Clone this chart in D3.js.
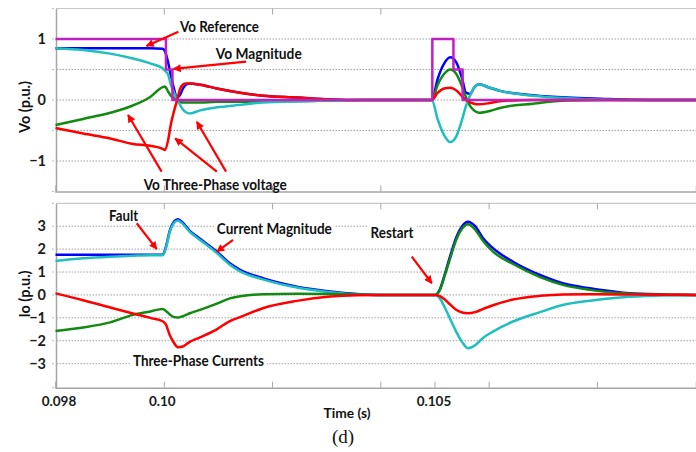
<!DOCTYPE html>
<html><head><meta charset="utf-8">
<script src="https://cdnjs.cloudflare.com/ajax/libs/d3/7.8.5/d3.min.js"></script>
<style>
html,body{margin:0;padding:0;background:#fff;}
svg{display:block;font-family:Lato,"Open Sans",sans-serif;}
</style></head><body>
<svg id="chart" width="696" height="452"></svg>
<script>
// ---------- DATA ----------
// Top panel: shared time axis (s)
const timeTop = [0.0980,0.09851,0.09901,0.09943,0.09975,0.09998,0.10002,0.10008,0.10013,0.10019,0.10024,0.10030,0.10035,0.10041,0.10048,0.10067,0.10098,0.10141,0.10183,0.10246,0.10307,0.10368,0.10436,0.10495,0.10506,0.10518,0.10529,0.10540,0.10551,0.10558,0.10566,0.10573,0.10582,0.10602,0.10621,0.10682,0.10745,0.10806,0.10898,0.10983];
const voMagnitude = [0.85,0.85,0.85,0.85,0.85,0.84,0.80,0.62,0.40,0.18,0.04,0.08,0.18,0.25,0.27,0.25,0.19,0.12,0.07,0.04,0.01,0,0,0,0.35,0.60,0.70,0.62,0.35,0.12,0.10,0.20,0.26,0.20,0.15,0.08,0.04,0.02,0,0];
const voPhaseA = [0.85,0.82,0.76,0.68,0.60,0.52,0.48,0.42,0.25,0.12,0.02,-0.08,-0.15,-0.20,-0.22,-0.17,-0.12,-0.08,-0.04,-0.02,-0.01,0,0,0,-0.32,-0.58,-0.69,-0.60,-0.32,-0.10,0.08,0.20,0.26,0.20,0.15,0.07,0.03,0.01,0,0];
const voPhaseB = [-0.41,-0.31,-0.21,-0.09,0.05,0.21,0.22,0.14,0.07,0.03,-0.01,-0.03,-0.04,-0.04,-0.04,-0.04,-0.03,-0.03,-0.02,-0.02,-0.01,0,0,0,0.25,0.43,0.50,0.43,0.22,0.05,-0.10,-0.17,-0.21,-0.18,-0.13,-0.06,-0.01,0,0,0];
const voPhaseC = [-0.46,-0.55,-0.63,-0.72,-0.75,-0.80,-0.82,-0.66,-0.40,-0.18,-0.02,0.18,0.25,0.27,0.27,0.25,0.19,0.12,0.07,0.04,0.01,0,0,0,0.12,0.19,0.20,0.16,0.06,0.0,-0.04,-0.06,-0.07,-0.05,-0.02,0,0,0,0,0];
// Vo reference (step signal)
const refTime  = [0.0980,0.10004,0.10016,0.10496,0.10535,0.10552,0.10983];
const refValue = [1,0.5,0,1,0.5,0,0];

// Bottom panel: shared time axis (s)
const timeBot = [0.0980,0.09851,0.09901,0.09943,0.09975,0.09998,0.10004,0.10011,0.10019,0.10026,0.10035,0.10048,0.10067,0.10098,0.10122,0.10141,0.10183,0.10246,0.10307,0.10357,0.10399,0.10473,0.10501,0.10510,0.10519,0.10529,0.10540,0.10551,0.10562,0.10575,0.10589,0.10608,0.10645,0.10695,0.10737,0.10787,0.10848,0.10922,0.10983];
const ioMagnitude = [1.75,1.75,1.75,1.75,1.75,1.75,2.1,2.8,3.2,3.3,3.15,2.8,2.45,1.89,1.38,1.1,0.73,0.36,0.15,0.04,0,0,0,0.25,0.9,1.7,2.5,3.0,3.2,3.0,2.5,2.04,1.45,0.87,0.51,0.29,0.10,0.02,0];
const ioPhaseA = [1.48,1.60,1.67,1.71,1.73,1.73,2.05,2.75,3.15,3.25,3.1,2.75,2.4,1.83,1.32,1.03,0.68,0.32,0.12,0.02,0,0,0,-0.15,-0.55,-1.05,-1.6,-2.05,-2.33,-2.2,-1.89,-1.6,-1.16,-0.75,-0.44,-0.25,-0.1,-0.03,0];
const ioPhaseB = [-1.57,-1.42,-1.2,-0.87,-0.72,-0.61,-0.70,-0.85,-0.97,-0.99,-0.93,-0.8,-0.65,-0.38,-0.15,-0.06,0.03,0.05,0.04,0.02,0,0,0,0.22,0.85,1.6,2.4,2.9,3.09,2.85,2.38,1.89,1.35,0.78,0.44,0.22,0.07,0.01,0];
const ioPhaseC = [0.07,-0.23,-0.55,-0.81,-1.0,-1.15,-1.30,-1.75,-2.1,-2.28,-2.25,-2.05,-1.85,-1.5,-1.14,-0.97,-0.58,-0.26,-0.07,-0.01,0,0,0,-0.05,-0.2,-0.42,-0.65,-0.77,-0.8,-0.75,-0.62,-0.45,-0.2,-0.04,0.02,0.03,0.02,0.01,0];

// Axis ticks
const xTickValues = [0.098,0.100,0.102,0.104,0.105,0.106,0.108];
const xTickLabels = {0.098:"0.098",0.1:"0.10",0.105:"0.105"};
const yTopTicks = [-1,0,1];
const yTopGrid = [-1,-0.5,0,0.5,1];
const yBotTicks = [-3,-2,-1,0,1,2,3];

// ---------- LAYOUT ----------
const svg = d3.select("#chart");
const x = d3.scaleLinear().domain([0.098,0.10983]).range([55.5,696]);
const yT = d3.scaleLinear().domain([-1.5,1.5]).range([191.5,8.5]);
const yB = d3.scaleLinear().domain([-4.05,4.0]).range([387.7,203.3]);
const C = {blue:"#0000ff", cyan:"#1fbfbf", green:"#128a12", red:"#ff0000", mag:"#c020c0"};
const FONT = "Lato";

const defs = svg.append("defs");
defs.append("marker").attr("id","ah").attr("viewBox","0 0 10 10")
  .attr("refX",9).attr("refY",5).attr("markerWidth",9).attr("markerHeight",8)
  .attr("markerUnits","userSpaceOnUse").attr("orient","auto")
  .append("path").attr("d","M0,0L10,5L0,10z").attr("fill",C.red);

function panel(y, grid, ticks, gTop){
  const g = svg.append("g");
  g.selectAll("line.grid").data(grid).join("line")
    .attr("x1",x(0.098)+1).attr("x2",696).attr("y1",d=>y(d)).attr("y2",d=>y(d))
    .attr("stroke","#a0a0a0").attr("stroke-width",1).attr("stroke-dasharray","1.5,1.5");
  const yd = y.domain();
  g.selectAll("line.mk").data(grid.concat(yd)).join("line")
    .attr("x1",52).attr("x2",54).attr("y1",d=>y(d)).attr("y2",d=>y(d))
    .attr("stroke","#9dc3e6").attr("stroke-width",1);
  g.append("line").attr("x1",56).attr("x2",696).attr("y1",y(yd[1])).attr("y2",y(yd[1]))
    .attr("stroke","#c8c8c8").attr("stroke-width",1.2);
  const ay = g.append("g").attr("transform","translate(56,0)")
    .call(d3.axisLeft(y).tickValues(ticks).tickSize(0).tickPadding(10).tickFormat(d3.format("d")));
  ay.select(".domain").attr("stroke","#a6a6a6").attr("stroke-width",1.5);
  ay.selectAll("text").attr("font-family",FONT).attr("font-weight","bold").attr("font-size",14.5).attr("fill","#1a1a1a");
  const at = g.append("g").attr("transform",`translate(0,${y(yd[1])})`)
    .call(d3.axisTop(x).tickValues(gTop).tickSize(-6).tickFormat(""));
  at.select(".domain").remove();
  at.selectAll("line").attr("stroke","#a6a6a6");
  return g;
}
panel(yT, yTopGrid, yTopTicks, [0.100,0.102,0.104]);
panel(yB, yBotTicks, yBotTicks, [0.100,0.102,0.104,0.106,0.108]);

const atb = svg.append("g").attr("transform",`translate(0,${yT(-1.5)})`)
  .call(d3.axisBottom(x).tickValues([0.100,0.102,0.104]).tickSize(-6).tickFormat(""));
atb.select(".domain").attr("stroke","#a6a6a6").attr("stroke-width",1.5);
atb.selectAll("line").attr("stroke","#a6a6a6");

const ab = svg.append("g").attr("transform",`translate(0,${yB(-4.05)})`)
  .call(d3.axisBottom(x).tickValues(xTickValues).tickSize(-6).tickPadding(9)
    .tickFormat(d=>xTickLabels[+d.toFixed(3)]||""));
ab.select(".domain").attr("stroke","#a6a6a6").attr("stroke-width",1.5);
ab.selectAll("line").attr("stroke","#a6a6a6");
ab.selectAll("text").attr("font-family",FONT).attr("font-weight","bold").attr("font-size",13.5).attr("fill","#1a1a1a")
  .attr("dx",(d)=> d===0.098 ? 3 : (d===0.1 ? -2 : -1));

const botLabels = [
  {t:0.09899, v:3.45, text:"Fault", w:29},
  {t:0.10098, v:2.90, text:"Current Magnitude", w:115},
  {t:0.10382, v:2.72, text:"Restart", w:43},
  {t:0.09943, v:-2.87, text:"Three-Phase Currents", w:131}
];
svg.append("g").selectAll("rect").data(botLabels).join("rect")
  .attr("x",d=>x(d.t)-3).attr("y",d=>yB(d.v)-9).attr("width",d=>d.w+6).attr("height",18)
  .attr("fill","#fff");

function drawLines(y, times, series, curve){
  const line = d3.line().x(d=>x(d[0])).y(d=>y(d[1])).curve(curve||d3.curveMonotoneX);
  series.forEach(s=>{
    svg.append("path").datum(times.map((t,i)=>[t,s.vals[i]]))
      .attr("d",line).attr("fill","none").attr("stroke",s.color)
      .attr("stroke-width",2.5).attr("stroke-linejoin","round");
  });
}
drawLines(yT, timeTop, [
  {vals:voMagnitude,color:C.blue},
  {vals:voPhaseB,color:C.green},
  {vals:voPhaseA,color:C.cyan},
  {vals:voPhaseC,color:C.red}
]);
drawLines(yT, refTime, [{vals:refValue,color:C.mag}], d3.curveStepAfter);
drawLines(yB, timeBot, [
  {vals:ioMagnitude,color:C.blue},
  {vals:ioPhaseA,color:C.cyan},
  {vals:ioPhaseB,color:C.green},
  {vals:ioPhaseC,color:C.red}
]);

const topLabels = [
  {t:0.1003, v:1.20, text:"Vo Reference", w:79},
  {t:0.10096, v:0.765, text:"Vo Magnitude", w:86},
  {t:0.09963, v:-1.38, text:"Vo Three-Phase voltage", w:143}
];
function labels(y, arr){
  svg.append("g").selectAll("text").data(arr).join("text")
    .attr("x",d=>x(d.t)).attr("y",d=>y(d.v)).attr("dominant-baseline","central")
    .attr("font-family",FONT).attr("font-weight","bold").attr("font-size",14.5)
    .attr("fill","#111").attr("textLength",d=>d.w).attr("lengthAdjust","spacingAndGlyphs")
    .text(d=>d.text);
}
labels(yT, topLabels);
labels(yB, botLabels);

const topArrows = [
  [0.10027,1.12,0.09968,0.885],
  [0.10152,0.63,0.10018,0.51],
  [0.09996,-1.175,0.09934,-0.246],
  [0.10098,-1.175,0.10021,-0.63],
  [0.10115,-1.175,0.10061,-0.356]
];
const botArrows = [
  [0.09950,3.13,0.09987,2.0],
  [0.10128,2.40,0.10098,1.89],
  [0.10458,1.67,0.10495,0.51]
];
function arrows(y, arr){
  svg.append("g").selectAll("line").data(arr).join("line")
    .attr("x1",d=>x(d[0])).attr("y1",d=>y(d[1])).attr("x2",d=>x(d[2])).attr("y2",d=>y(d[3]))
    .attr("stroke",C.red).attr("stroke-width",2.2).attr("marker-end","url(#ah)");
}
arrows(yT, topArrows);
arrows(yB, botArrows);

svg.append("text").attr("transform","translate(24,107) rotate(-90)").attr("text-anchor","middle")
  .attr("dominant-baseline","central").attr("font-family",FONT).attr("font-weight","bold")
  .attr("font-size",14.5).attr("fill","#111").text("Vo (p.u.)");
svg.append("text").attr("transform","translate(24,294) rotate(-90)").attr("text-anchor","middle")
  .attr("dominant-baseline","central").attr("font-family",FONT).attr("font-weight","bold")
  .attr("font-size",14.5).attr("fill","#111").text("Io (p.u.)");
svg.append("text").attr("x",347).attr("y",413).attr("text-anchor","middle").attr("dominant-baseline","central")
  .attr("font-family",FONT).attr("font-weight","bold").attr("font-size",13.5).attr("fill","#111")
  .attr("textLength",47).attr("lengthAdjust","spacingAndGlyphs").text("Time (s)");
svg.append("text").attr("x",343).attr("y",436).attr("text-anchor","middle").attr("dominant-baseline","central")
  .attr("font-family","'Liberation Serif','DejaVu Serif',serif").attr("font-size",19).attr("fill","#111").text("(d)");
</script>
</body></html>
